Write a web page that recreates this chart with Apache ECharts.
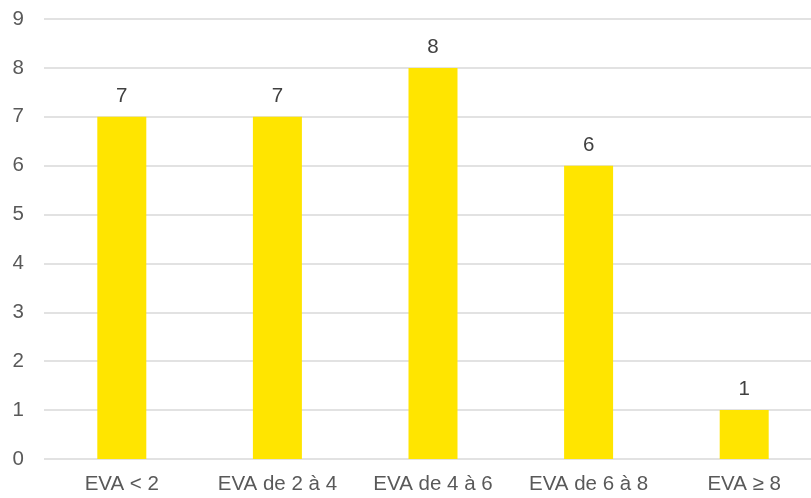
<!DOCTYPE html>
<html><head><meta charset="utf-8">
<script src="https://cdn.jsdelivr.net/npm/echarts@6/dist/echarts.min.js"></script>
<style>html,body{margin:0;padding:0;background:#fff;overflow:hidden}#c{width:822px;height:498px}</style>
</head><body><div id="c"></div>
<script>
const categories = ["EVA < 2", "EVA de 2 à 4", "EVA de 4 à 6", "EVA de 6 à 8", "EVA ≥ 8"];
const values = [7, 7, 8, 6, 1];
const yTicks = [0, 1, 2, 3, 4, 5, 6, 7, 8, 9];

const chart = echarts.init(document.getElementById('c'), null, {renderer: 'canvas'});
const font = 'Liberation Sans, Arial, sans-serif';
chart.setOption({
  animation: false,
  backgroundColor: '#ffffff',
  grid: {left: 44, top: 19, right: 0, height: 440, containLabel: false},
  xAxis: {
    type: 'category', data: categories,
    axisLine: {show: false}, axisTick: {show: false},
    axisLabel: {color: '#595959', fontSize: 20.5, fontFamily: font, margin: 15}
  },
  yAxis: {
    type: 'value', min: yTicks[0], max: yTicks[yTicks.length - 1], interval: 1,
    axisLine: {show: false}, axisTick: {show: false},
    axisLabel: {color: '#595959', fontSize: 20.5, fontFamily: font, margin: 20},
    splitLine: {lineStyle: {color: '#d9d9d9', width: 1.5}}
  },
  series: [{
    type: 'bar', data: values, barWidth: 49,
    itemStyle: {color: '#FFE500'},
    label: {show: true, position: 'top', distance: 10, color: '#404040', fontSize: 20.5, fontFamily: font}
  }]
});
</script></body></html>
